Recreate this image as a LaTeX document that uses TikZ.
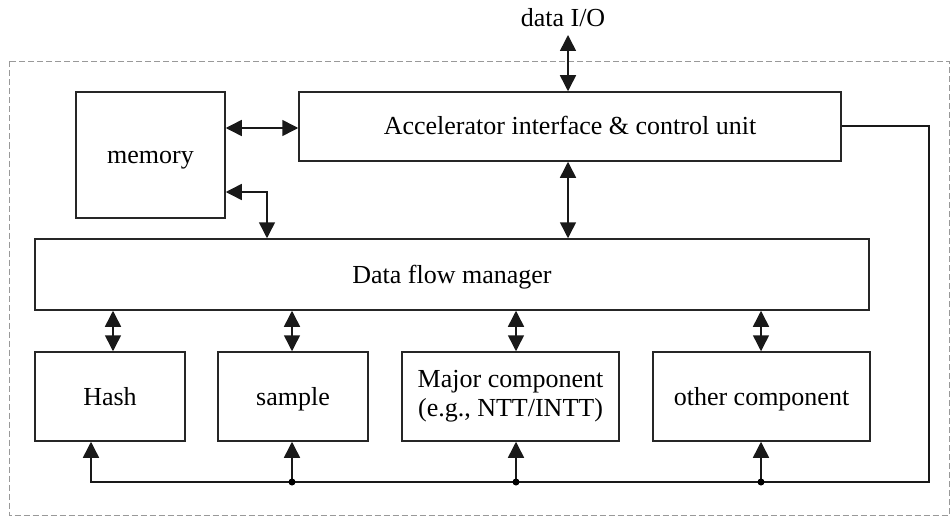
\documentclass[tikz,border=0pt]{standalone}
\usepackage{fontspec}
\setmainfont{Liberation Serif}
\usetikzlibrary{arrows.meta}
\begin{document}
\begin{tikzpicture}[x=1pt,y=-1pt,
  box/.style={draw=black!85, line width=1.5pt, fill=white, align=center,
    inner sep=0pt, font=\fontsize{26}{29}\selectfont},
  oneline/.style={text height=17pt, text depth=0pt},
  link/.style={draw=black!90, line width=1.5pt},
  tip/.tip={Triangle[length=16pt,width=16pt]},
  arr/.style={link, tip-tip},
  uparr/.style={link, -tip},
  tap/.style={circle, fill=black, inner sep=0pt, minimum size=7pt},
  frame/.style={draw=black!40, line width=1pt, dash pattern=on 6pt off 3pt}]
\useasboundingbox (0,0) rectangle (950,516);
% outer dashed boundary of the accelerator
\draw[frame] (9,61.5) rectangle (949.5,515);

% blocks
\node[box, oneline, minimum width=149pt, minimum height=126pt] (mem) at (150.5,155) {memory};
\node[box, oneline, minimum width=542pt, minimum height=69pt] (acc) at (570,126.5) {Accelerator interface \& control unit};
\node[box, oneline, minimum width=834pt, minimum height=71pt] (dfm) at (452,274.5) {Data flow manager};
\node[box, oneline, minimum width=150pt, minimum height=89pt] (hash) at (110,396.5) {Hash};
\node[box, oneline, minimum width=150pt, minimum height=89pt] (smp) at (293,396.5) {sample};
\node[box, minimum width=217pt, minimum height=89pt] (maj) at (510.5,396.5) {Major component\\(e.g., NTT/INTT)};
\node[box, oneline, minimum width=217pt, minimum height=89pt] (oth) at (761.5,396.5) {other component};

% external data port
\node[font=\fontsize{26}{29}\selectfont, anchor=base] (dio) at (563,27) {data I/O};
\coordinate (io) at (568,35);
\draw[arr] (io) -- (io |- acc.north);

% memory links
\draw[arr] (mem.east |- 0,128) -- (acc.west |- 0,128);
\draw[arr] (mem.east |- 0,192) -| (dfm.north -| 267,0);

% control unit to data flow manager
\draw[arr] (acc.south -| 568,0) -- (dfm.north -| 568,0);

% data flow manager to the components
\draw[arr] (dfm.south -| 113,0) -- (hash.north -| 113,0);
\draw[arr] (dfm.south -| 292,0) -- (smp.north -| 292,0);
\draw[arr] (dfm.south -| 516,0) -- (maj.north -| 516,0);
\draw[arr] (dfm.south -| 761,0) -- (oth.north -| 761,0);

% control bus from the control unit to every component
\coordinate (cr) at (929,126);
\coordinate (cb) at (929,482);
\coordinate (b1) at (292,482);
\coordinate (b2) at (516,482);
\coordinate (b3) at (761,482);
\draw[uparr] (acc.east |- cr) -- (cr) -- (cb) -- (91,482) -- (hash.south -| 91,0);
\draw[uparr] (b1) -- (smp.south -| b1);
\draw[uparr] (b2) -- (maj.south -| b2);
\draw[uparr] (b3) -- (oth.south -| b3);
% junction dots on the bus
\node[tap] (t1) at (b1) {};
\node[tap] (t2) at (b2) {};
\node[tap] (t3) at (b3) {};
\end{tikzpicture}
\end{document}
